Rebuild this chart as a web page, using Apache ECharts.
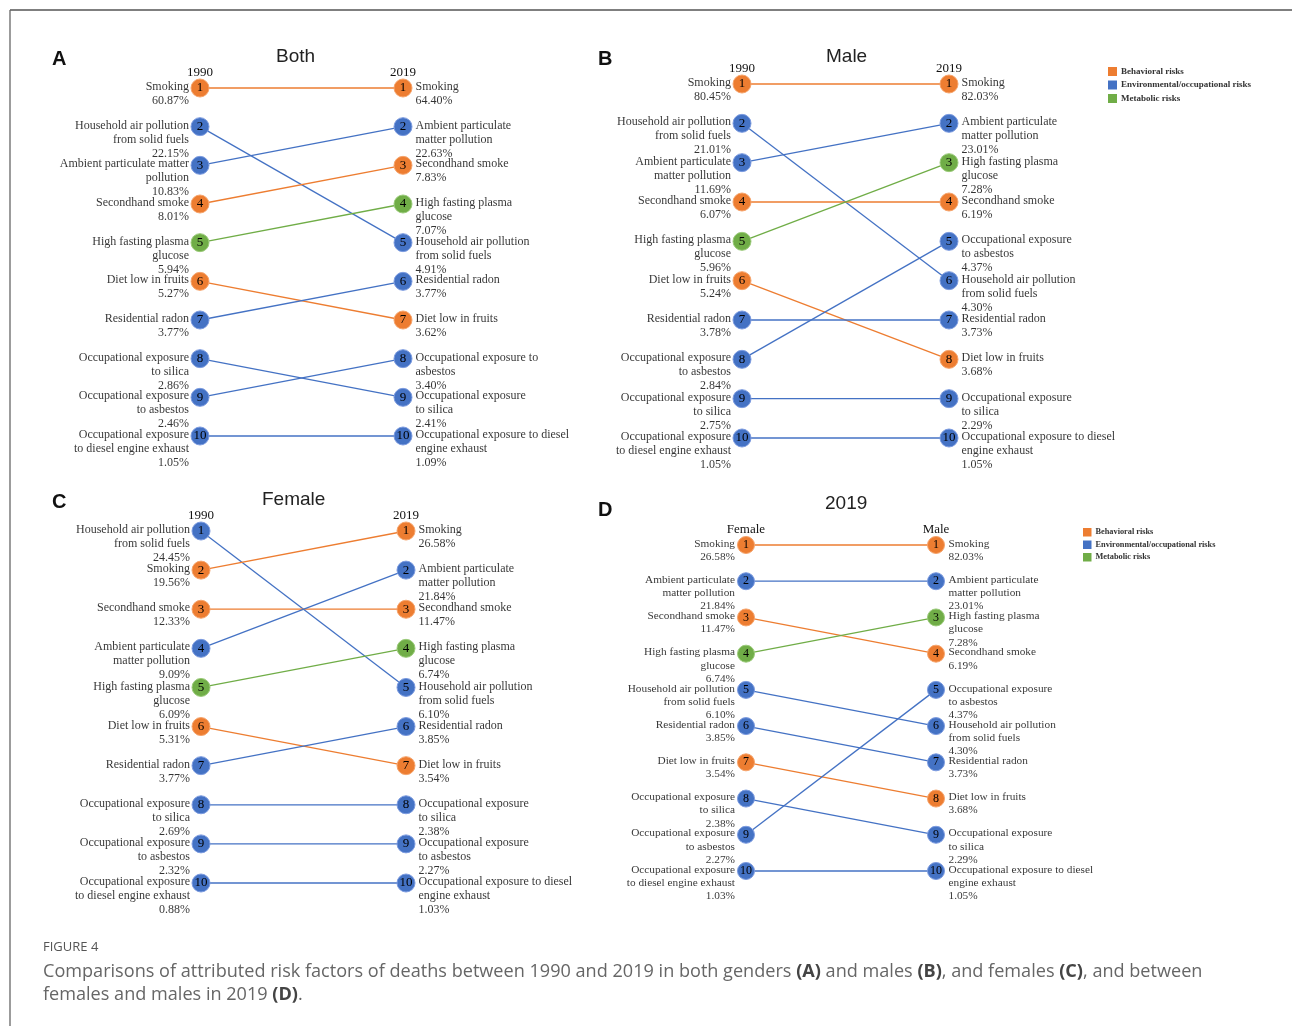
<!DOCTYPE html>
<html><head><meta charset="utf-8">
<script src="https://cdn.jsdelivr.net/npm/echarts@6/dist/echarts.min.js"></script>
<style>html,body{margin:0;padding:0;background:#fff}#c{width:1292px;height:1026px}</style>
</head><body><div id="c"></div>
<script>
// ---------- categories ----------
const RISK_GROUPS = ['Behavioral risks', 'Environmental/occupational risks', 'Metabolic risks'];
const GROUP_COLORS = ['#ED7D31', '#4472C4', '#70AD47'];
const GROUP_BORDERS = ['#F6A46C', '#7C9BE0', '#9BCB7A'];
const FACTORS = ['Smoking', 'Household air pollution from solid fuels', 'Ambient particulate matter pollution',
  'Secondhand smoke', 'High fasting plasma glucose', 'Diet low in fruits', 'Residential radon',
  'Occupational exposure to silica', 'Occupational exposure to asbestos', 'Occupational exposure to diesel engine exhaust'];
const FACTOR_GROUP = [0, 1, 1, 0, 2, 0, 1, 1, 1, 1];

// ---------- Panel A: Both ----------
const bothOrder1990 = ['Smoking', 'Household air pollution from solid fuels', 'Ambient particulate matter pollution', 'Secondhand smoke', 'High fasting plasma glucose', 'Diet low in fruits', 'Residential radon', 'Occupational exposure to silica', 'Occupational exposure to asbestos', 'Occupational exposure to diesel engine exhaust'];
const bothValues1990 = [60.87, 22.15, 10.83, 8.01, 5.94, 5.27, 3.77, 2.86, 2.46, 1.05];
const bothLabels1990 = ['Smoking', 'Household air pollution\nfrom solid fuels', 'Ambient particulate matter\npollution', 'Secondhand smoke', 'High fasting plasma\nglucose', 'Diet low in fruits', 'Residential radon', 'Occupational exposure\nto silica', 'Occupational exposure\nto asbestos', 'Occupational exposure\nto diesel engine exhaust'];
const bothOrder2019 = ['Smoking', 'Ambient particulate matter pollution', 'Secondhand smoke', 'High fasting plasma glucose', 'Household air pollution from solid fuels', 'Residential radon', 'Diet low in fruits', 'Occupational exposure to asbestos', 'Occupational exposure to silica', 'Occupational exposure to diesel engine exhaust'];
const bothValues2019 = [64.40, 22.63, 7.83, 7.07, 4.91, 3.77, 3.62, 3.40, 2.41, 1.09];
const bothLabels2019 = ['Smoking', 'Ambient particulate\nmatter pollution', 'Secondhand smoke', 'High fasting plasma\nglucose', 'Household air pollution\nfrom solid fuels', 'Residential radon', 'Diet low in fruits', 'Occupational exposure to\nasbestos', 'Occupational exposure\nto silica', 'Occupational exposure to diesel\nengine exhaust'];

// ---------- Panel B: Male ----------
const maleOrder1990 = ['Smoking', 'Household air pollution from solid fuels', 'Ambient particulate matter pollution', 'Secondhand smoke', 'High fasting plasma glucose', 'Diet low in fruits', 'Residential radon', 'Occupational exposure to asbestos', 'Occupational exposure to silica', 'Occupational exposure to diesel engine exhaust'];
const maleValues1990 = [80.45, 21.01, 11.69, 6.07, 5.96, 5.24, 3.78, 2.84, 2.75, 1.05];
const maleLabels1990 = ['Smoking', 'Household air pollution\nfrom solid fuels', 'Ambient particulate\nmatter pollution', 'Secondhand smoke', 'High fasting plasma\nglucose', 'Diet low in fruits', 'Residential radon', 'Occupational exposure\nto asbestos', 'Occupational exposure\nto silica', 'Occupational exposure\nto diesel engine exhaust'];
const maleOrder2019 = ['Smoking', 'Ambient particulate matter pollution', 'High fasting plasma glucose', 'Secondhand smoke', 'Occupational exposure to asbestos', 'Household air pollution from solid fuels', 'Residential radon', 'Diet low in fruits', 'Occupational exposure to silica', 'Occupational exposure to diesel engine exhaust'];
const maleValues2019 = [82.03, 23.01, 7.28, 6.19, 4.37, 4.30, 3.73, 3.68, 2.29, 1.05];
const maleLabels2019 = ['Smoking', 'Ambient particulate\nmatter pollution', 'High fasting plasma\nglucose', 'Secondhand smoke', 'Occupational exposure\nto asbestos', 'Household air pollution\nfrom solid fuels', 'Residential radon', 'Diet low in fruits', 'Occupational exposure\nto silica', 'Occupational exposure to diesel\nengine exhaust'];

// ---------- Panel C: Female ----------
const femaleOrder1990 = ['Household air pollution from solid fuels', 'Smoking', 'Secondhand smoke', 'Ambient particulate matter pollution', 'High fasting plasma glucose', 'Diet low in fruits', 'Residential radon', 'Occupational exposure to silica', 'Occupational exposure to asbestos', 'Occupational exposure to diesel engine exhaust'];
const femaleValues1990 = [24.45, 19.56, 12.33, 9.09, 6.09, 5.31, 3.77, 2.69, 2.32, 0.88];
const femaleLabels1990 = ['Household air pollution\nfrom solid fuels', 'Smoking', 'Secondhand smoke', 'Ambient particulate\nmatter pollution', 'High fasting plasma\nglucose', 'Diet low in fruits', 'Residential radon', 'Occupational exposure\nto silica', 'Occupational exposure\nto asbestos', 'Occupational exposure\nto diesel engine exhaust'];
const femaleOrder2019 = ['Smoking', 'Ambient particulate matter pollution', 'Secondhand smoke', 'High fasting plasma glucose', 'Household air pollution from solid fuels', 'Residential radon', 'Diet low in fruits', 'Occupational exposure to silica', 'Occupational exposure to asbestos', 'Occupational exposure to diesel engine exhaust'];
const femaleValues2019 = [26.58, 21.84, 11.47, 6.74, 6.10, 3.85, 3.54, 2.38, 2.27, 1.03];
const femaleLabels2019 = ['Smoking', 'Ambient particulate\nmatter pollution', 'Secondhand smoke', 'High fasting plasma\nglucose', 'Household air pollution\nfrom solid fuels', 'Residential radon', 'Diet low in fruits', 'Occupational exposure\nto silica', 'Occupational exposure\nto asbestos', 'Occupational exposure to diesel\nengine exhaust'];

// ---------- Panel D: 2019 Female vs Male ----------
const femaleLabels2019D = ['Smoking', 'Ambient particulate\nmatter pollution', 'Secondhand smoke', 'High fasting plasma\nglucose', 'Household air pollution\nfrom solid fuels', 'Residential radon', 'Diet low in fruits', 'Occupational exposure\nto silica', 'Occupational exposure\nto asbestos', 'Occupational exposure\nto diesel engine exhaust'];

// ---------- text ----------
const PANEL_LETTERS = ['A', 'B', 'C', 'D'];
const PANEL_TITLES = ['Both', 'Male', 'Female', '2019'];
const COLUMN_HEADS = [['1990', '2019'], ['1990', '2019'], ['1990', '2019'], ['Female', 'Male']];
const CAPTION_HEAD = 'FIGURE 4';

const SERIF = '"Liberation Serif", "Times New Roman", serif';
const SANS = '"Liberation Sans", Arial, sans-serif';

const panels = [
  { grid: { left: 200, top: 88, width: 203, height: 348 }, fs: 12, nfs: 13, lh: 14, sym: 18,
    L: [bothOrder1990, bothValues1990, bothLabels1990], R: [bothOrder2019, bothValues2019, bothLabels2019],
    title: { left: 276, top: 47 }, letter: { left: 52, top: 49 } },
  { grid: { left: 742, top: 84, width: 207, height: 354 }, fs: 12, nfs: 13, lh: 14, sym: 18,
    L: [maleOrder1990, maleValues1990, maleLabels1990], R: [maleOrder2019, maleValues2019, maleLabels2019],
    title: { left: 826, top: 47 }, letter: { left: 598, top: 49 } },
  { grid: { left: 201, top: 531, width: 205, height: 352 }, fs: 12, nfs: 13, lh: 14, sym: 18,
    L: [femaleOrder1990, femaleValues1990, femaleLabels1990], R: [femaleOrder2019, femaleValues2019, femaleLabels2019],
    title: { left: 262, top: 490 }, letter: { left: 52, top: 492 } },
  { grid: { left: 746, top: 545, width: 190, height: 326 }, fs: 11.3, nfs: 12, lh: 13.3, sym: 17,
    L: [femaleOrder2019, femaleValues2019, femaleLabels2019D], R: [maleOrder2019, maleValues2019, maleLabels2019],
    title: { left: 825, top: 494 }, letter: { left: 598, top: 500 } }
];

const grids = [], xAxes = [], yAxes = [], series = [], titles = [];

panels.forEach((p, k) => {
  grids.push(p.grid);
  const heads = COLUMN_HEADS[k];
  xAxes.push({ gridIndex: k, type: 'value', min: 0, max: 1, interval: 1, position: 'top',
    axisLine: { show: false }, axisTick: { show: false }, splitLine: { show: false },
    axisLabel: { show: true, margin: 9, fontFamily: SERIF, fontSize: 13, color: '#111',
      formatter: v => (v === 0 ? heads[0] : v === 1 ? heads[1] : '') } });
  yAxes.push({ gridIndex: k, type: 'value', min: 1, max: 10, inverse: true, show: false });

  const [lo, lv, ll] = p.L, [ro, rv, rl] = p.R;
  lo.forEach((name, i) => {
    const j = ro.indexOf(name);
    const g = FACTOR_GROUP[FACTORS.indexOf(name)];
    const col = GROUP_COLORS[g];
    series.push({
      type: 'line', name: name, xAxisIndex: k, yAxisIndex: k, silent: true, clip: false,
      data: [[0, i + 1], [1, j + 1]],
      symbol: 'circle', symbolSize: p.sym,
      itemStyle: { color: col, borderColor: GROUP_BORDERS[g], borderWidth: 1 },
      lineStyle: { color: col, width: 1.3 },
      label: { show: true, position: 'inside', formatter: d => String(d.value[1]),
        fontFamily: SERIF, fontSize: p.nfs, color: '#000' },
      z: 3
    });
  });
  const textSeries = (order, vals, labels, xv, side) => ({
    type: 'scatter', xAxisIndex: k, yAxisIndex: k, silent: true, symbolSize: 1,
    itemStyle: { color: 'transparent' }, z: 2,
    data: order.map((n, i) => ({ value: [xv, i + 1], txt: labels[i] + '\n' + vals[i].toFixed(2) + '%' })),
    label: { show: true, position: side, distance: side === 'left' ? 10.5 : 12,
      align: side === 'left' ? 'right' : 'left', verticalAlign: 'top',
      offset: [0, -Math.round(p.lh / 2) - 1],
      formatter: d => d.data.txt, fontFamily: SERIF, fontSize: p.fs, lineHeight: p.lh, color: '#000' }
  });
  series.push(textSeries(lo, lv, ll, 0, 'left'));
  series.push(textSeries(ro, rv, rl, 1, 'right'));

  titles.push({ text: PANEL_TITLES[k], left: p.title.left, top: p.title.top, padding: 0,
    textStyle: { fontFamily: SANS, fontSize: 19, fontWeight: 'normal', color: '#222' } });
  titles.push({ text: PANEL_LETTERS[k], left: p.letter.left, top: p.letter.top, padding: 0,
    textStyle: { fontFamily: SANS, fontSize: 20, fontWeight: 'bold', color: '#111' } });
});

// legend dummy series
RISK_GROUPS.forEach((g, i) => series.push({ type: 'line', name: g, data: [], xAxisIndex: 0, yAxisIndex: 0,
  itemStyle: { color: GROUP_COLORS[i] }, lineStyle: { color: GROUP_COLORS[i] } }));

titles.push({ text: CAPTION_HEAD, left: 43, top: 941, padding: 0,
  textStyle: { fontFamily: '"Open Sans", sans-serif', fontSize: 13, fontWeight: 'normal', color: '#555' } });
titles.push({
  text: 'Comparisons of attributed risk factors of deaths between 1990 and 2019 in both genders {b|(A)} and males {b|(B)}, and females {b|(C)}, and between\nfemales and males in 2019 {b|(D)}.',
  left: 43, top: 960, padding: 0,
  textStyle: { fontFamily: '"Open Sans", sans-serif', fontSize: 18.1, lineHeight: 23, fontWeight: 'normal', color: '#666',
    rich: { b: { fontFamily: '"Open Sans", sans-serif', fontSize: 18.1, lineHeight: 23, fontWeight: 'bold', color: '#444' } } }
});

const legendBase = (left, top, sz, fs, gap) => ({
  data: RISK_GROUPS.map(n => ({ name: n, icon: 'rect' })), orient: 'vertical', left: left, top: top,
  itemWidth: sz, itemHeight: sz, itemGap: gap, padding: 0, selectedMode: false,
  textStyle: { fontFamily: SERIF, fontSize: fs, fontWeight: 'bold', color: '#333', padding: [0, 0, 0, -1] }
});

const chart = echarts.init(document.getElementById('c'), null, { renderer: 'canvas' });
chart.setOption({
  backgroundColor: '#fff',
  animation: false,
  title: titles,
  legend: [legendBase(1108, 67, 9, 9, 4.5), legendBase(1083, 528, 8.5, 8.3, 4)],
  grid: grids, xAxis: xAxes, yAxis: yAxes, series: series,
  graphic: [
    { type: 'line', shape: { x1: 10, y1: 10, x2: 1292, y2: 10 }, style: { stroke: '#555', lineWidth: 1.6 } },
    { type: 'line', shape: { x1: 10, y1: 10, x2: 10, y2: 1026 }, style: { stroke: '#666', lineWidth: 1.3 } }
  ]
});
</script></body></html>
